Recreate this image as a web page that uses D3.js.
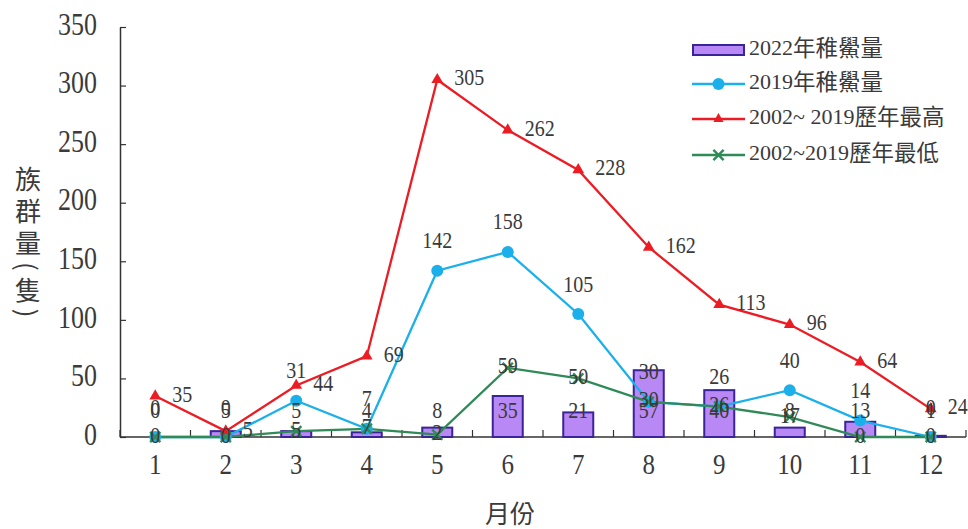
<!DOCTYPE html>
<html>
<head>
<meta charset="utf-8">
<script src="https://cdn.jsdelivr.net/npm/d3@7"></script>
<style>
  html, body { margin: 0; padding: 0; background: #fff; }
  svg { display: block; }
  .num { font-family: "Liberation Serif", "DejaVu Serif", serif; fill: #3a3a3a; }
  .cjk { font-family: "Noto Sans CJK TC", "Noto Sans CJK SC", sans-serif; fill: #3a3a3a; }
</style>
</head>
<body>
<svg id="chart" width="968" height="529"></svg>
<script>
// Months on the x axis
const months = [1, 2, 3, 4, 5, 6, 7, 8, 9, 10, 11, 12];
// 2022 juvenile horseshoe crab counts (bars)
const count2022 = [0, 5, 5, 4, 8, 35, 21, 57, 40, 8, 13, 1];
// 2019 juvenile counts
const count2019 = [0, 0, 31, 7, 142, 158, 105, 30, 26, 40, 14, 0];
// 2002–2019 monthly maximum
const maxHist = [35, 5, 44, 69, 305, 262, 228, 162, 113, 96, 64, 24];
// 2002–2019 monthly minimum
const minHist = [0, 0, 5, 7, 2, 59, 50, 30, 26, 17, 0, 0];
// Y axis ticks
const yTicks = [0, 50, 100, 150, 200, 250, 300, 350];

const seriesNames = ["2022年稚鱟量", "2019年稚鱟量", "2002~ 2019歷年最高", "2002~2019歷年最低"];
const colors = { bar: "#b888f4", barStroke: "#3b2398", blue: "#1cb0ea", red: "#ec1c24", green: "#2f8a57" };

const svg = d3.select("#chart");
const plotLeft = 120, plotRight = 966, plotTop = 27, plotBottom = 437;
const stretch = 1.2; // numerals are set tall and narrow

const x = d3.scaleBand().domain(months).range([plotLeft, plotRight]).padding(0);
const y = d3.scaleLinear().domain([0, 350]).range([plotBottom, plotTop]);
const cx = m => x(m) + x.bandwidth() / 2;

// place a numeric label at (px, py), vertically stretched about its centre
function placeNum(sel, px, py) {
  return sel.attr("class", "num")
    .attr("transform", (d, i) => `translate(${px(d, i)},${py(d, i)}) scale(1,${stretch})`)
    .attr("dominant-baseline", "middle");
}

// Y axis (ticks point inward)
const yAxis = d3.axisLeft(y).tickValues(yTicks).tickSizeInner(-6).tickSizeOuter(0).tickPadding(23);
const gy = svg.append("g").attr("transform", `translate(${plotLeft},0)`).call(yAxis);
gy.select(".domain").attr("stroke", "#333").attr("stroke-width", 1.5);
gy.selectAll(".tick line").attr("stroke", "#333").attr("stroke-width", 1.2);
gy.selectAll(".tick text").attr("class", "num").attr("font-size", 26).attr("fill", "#3a3a3a")
  .attr("dy", null).attr("dominant-baseline", "middle").attr("transform", `scale(1,${stretch})`);

// X axis: baseline, ticks between categories, labels at centres
const gx = svg.append("g");
gx.append("line").attr("x1", plotLeft).attr("x2", plotRight).attr("y1", y(0)).attr("y2", y(0))
  .attr("stroke", "#333").attr("stroke-width", 1.5);
const edges = months.map(m => x(m)).concat([x(months[months.length - 1]) + x.bandwidth()]);
gx.selectAll(".xt").data(edges).join("line")
  .attr("x1", d => d).attr("x2", d => d).attr("y1", y(0)).attr("y2", y(0) - 7)
  .attr("stroke", "#333").attr("stroke-width", 1.2);
placeNum(gx.selectAll(".xl").data(months).join("text"), d => cx(d), () => y(0) + 30)
  .attr("font-size", 25).attr("text-anchor", "middle").text(d => d);

// Axis titles
svg.append("text").attr("class", "cjk").attr("font-size", 25)
  .attr("x", 510).attr("y", 516).attr("text-anchor", "middle").attr("dominant-baseline", "middle")
  .text("月份");
svg.append("text").attr("class", "cjk").attr("font-size", 26)
  .attr("x", 28).attr("y", 166)
  .style("writing-mode", "vertical-rl").style("letter-spacing", "6px")
  .text("族群量(隻)");

// Bars
const barW = 30;
svg.append("g").selectAll("rect").data(months).join("rect")
  .attr("x", (d) => cx(d) - barW / 2)
  .attr("y", (d, i) => y(count2022[i]))
  .attr("width", barW)
  .attr("height", (d, i) => y(0) - y(count2022[i]))
  .attr("fill", colors.bar).attr("stroke", colors.barStroke).attr("stroke-width", 2);

const line = d3.line().x((d, i) => cx(months[i])).y(d => y(d));

function drawLine(values, color) {
  svg.append("path").datum(values).attr("d", line)
    .attr("fill", "none").attr("stroke", color).attr("stroke-width", 2.3);
}
drawLine(count2019, colors.blue);
drawLine(maxHist, colors.red);
drawLine(minHist, colors.green);

// Markers
svg.append("g").selectAll("circle").data(count2019).join("circle")
  .attr("cx", (d, i) => cx(months[i])).attr("cy", d => y(d)).attr("r", 6)
  .attr("fill", colors.blue);
svg.append("g").selectAll("path").data(maxHist).join("path")
  .attr("d", d3.symbol(d3.symbolTriangle, 60))
  .attr("transform", (d, i) => `translate(${cx(months[i])},${y(d)})`)
  .attr("fill", colors.red);
svg.append("g").selectAll("path").data(minHist).join("path")
  .attr("d", d3.symbol(d3.symbolX, 70))
  .attr("transform", (d, i) => `translate(${cx(months[i])},${y(d)})`)
  .attr("fill", "none").attr("stroke", colors.green).attr("stroke-width", 2.4);

// Data labels
const lblSize = 20;
placeNum(svg.append("g").selectAll("text").data(count2022).join("text"),
  (d, i) => cx(months[i]), () => y(0) - 25)
  .attr("font-size", lblSize).attr("fill", "#2e2540").attr("text-anchor", "middle").text(d => d);
placeNum(svg.append("g").selectAll("text").data(count2019).join("text"),
  (d, i) => cx(months[i]), d => y(d) - 28)
  .attr("font-size", lblSize).attr("text-anchor", "middle").text(d => d);
placeNum(svg.append("g").selectAll("text").data(maxHist).join("text"),
  (d, i) => cx(months[i]) + 17, d => y(d))
  .attr("font-size", lblSize).attr("text-anchor", "start").text(d => d);
placeNum(svg.append("g").selectAll("text").data(minHist).join("text"),
  (d, i) => cx(months[i]), d => y(d))
  .attr("font-size", lblSize).attr("fill", "#1f4f33").attr("text-anchor", "middle").text(d => d);

// Legend
const lg = svg.append("g").attr("transform", "translate(692,50)");
const rowY = [0, 34, 69, 105];
lg.append("rect").attr("x", 1).attr("y", rowY[0] - 5).attr("width", 51).attr("height", 10)
  .attr("fill", colors.bar).attr("stroke", colors.barStroke).attr("stroke-width", 2);
[["blue", "circle"], ["red", "tri"], ["green", "x"]].forEach(([c, m], k) => {
  const yy = rowY[k + 1];
  lg.append("line").attr("x1", 0).attr("x2", 53).attr("y1", yy).attr("y2", yy)
    .attr("stroke", colors[c]).attr("stroke-width", 2.3);
  if (m === "circle") lg.append("circle").attr("cx", 26.5).attr("cy", yy).attr("r", 6).attr("fill", colors.blue);
  if (m === "tri") lg.append("path").attr("d", d3.symbol(d3.symbolTriangle, 45)).attr("transform", `translate(26.5,${yy})`).attr("fill", colors.red);
  if (m === "x") lg.append("path").attr("d", d3.symbol(d3.symbolX, 70)).attr("transform", `translate(26.5,${yy})`).attr("fill", "none").attr("stroke", colors.green).attr("stroke-width", 2.4);
});
seriesNames.forEach((name, k) => {
  const t = lg.append("text").attr("x", 57).attr("y", rowY[k]).attr("dominant-baseline", "middle")
    .attr("font-size", 22).attr("fill", "#3a3a3a");
  // digits in serif, Chinese characters in the CJK face
  name.split(/([0-9~ ]+)/).filter(s => s.length).forEach(part => {
    const isNum = /[0-9~ ]/.test(part[0]);
    t.append("tspan").attr("class", isNum ? "num" : "cjk")
      .attr("font-size", isNum ? 22 : 22.5).text(part);
  });
});
</script>
</body>
</html>
